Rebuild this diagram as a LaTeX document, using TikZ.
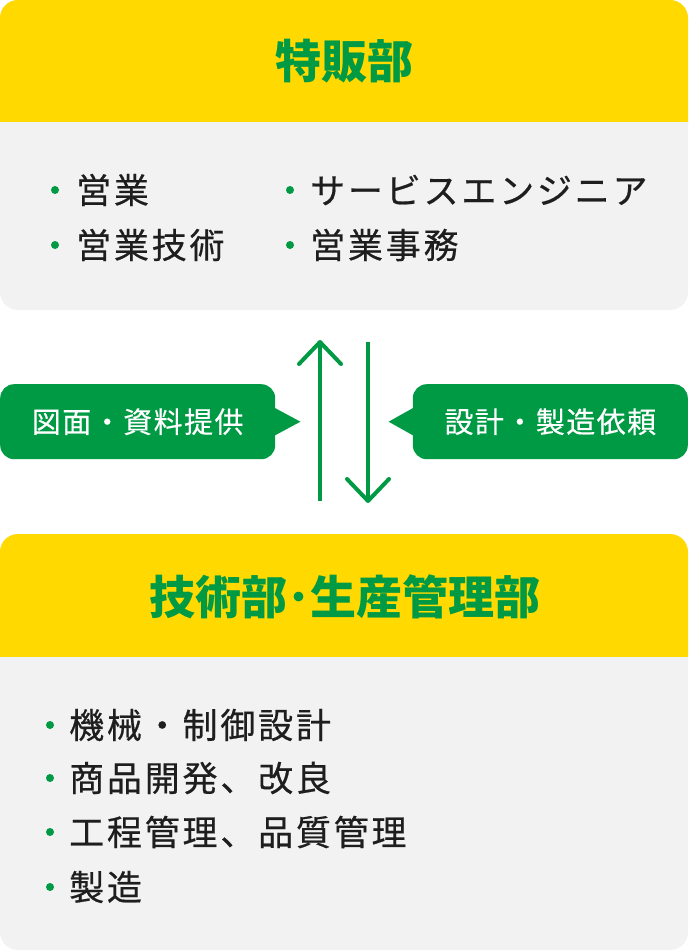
\documentclass[tikz,border=0pt]{standalone}
\usepackage{fontspec}
\setmainfont{Noto Sans CJK JP}
\usetikzlibrary{arrows.meta,calc}
\definecolor{hdr}{HTML}{FFD900}
\definecolor{grn}{HTML}{009A44}
\definecolor{pane}{HTML}{F2F2F2}
\definecolor{ink}{HTML}{1E1E1E}
\begin{document}
\begin{tikzpicture}[x=1pt,y=-1pt,
  title/.style={font=\fontsize{46pt}{50pt}\selectfont\bfseries, text=grn, inner sep=0pt},
  item/.style={font=\fontsize{35pt}{40pt}\selectfont\addfontfeatures{LetterSpace=8,FakeBold=0.5}, text=ink, anchor=west, inner sep=0pt},
  bul/.style={circle, fill=grn, minimum size=8pt, inner sep=0pt},
  callout/.style={fill=grn, rounded corners=14pt, minimum width=275pt, minimum height=75pt, inner sep=0pt, text=white, font=\fontsize{29pt}{32pt}\selectfont\addfontfeatures{LetterSpace=5,FakeBold=0.3}},
  flow/.style={draw=grn, line width=4pt, -{Straight Barb[length=22pt, width=42pt, line join=round, line cap=round]}}]
\useasboundingbox (0,0) rectangle (688,952);
% top panel
\fill[pane, rounded corners=18pt] (0,0) rectangle (688,310);
\begin{scope}
  \clip (0,0) rectangle (688,122);
  \fill[hdr, rounded corners=18pt] (0,0) rectangle (688,170);
\end{scope}
\node[title] (t1) at (344,61) {特販部};
\node[bul] (b11) at (55,190) {};
\node[item] (i11) at (76,190) {営業};
\node[bul] (b12) at (55,245) {};
\node[item] (i12) at (76,245) {営業技術};
\node[bul] (b13) at (290,190) {};
\node[item] (i13) at (310,190) {サービスエンジニア};
\node[bul] (b14) at (290,245) {};
\node[item] (i14) at (310,245) {営業事務};
% callouts
\node[callout, anchor=north west] (c1) at (0,384) {図面・資料提供};
\fill[grn] ($(c1.east)+(-1,-14)$) -- ($(c1.east)+(25,0)$) -- ($(c1.east)+(-1,14)$) -- cycle;
\node[callout, anchor=north east] (c2) at (688,384) {設計・製造依頼};
\fill[grn] ($(c2.west)+(1,-14)$) -- ($(c2.west)+(-24,0)$) -- ($(c2.west)+(1,14)$) -- cycle;
% arrows
\coordinate (ua) at (320,501);
\coordinate (ub) at (320,340);
\coordinate (da) at (368,342);
\coordinate (db) at (368,503);
\draw[flow] (ua) -- (ub);
\draw[flow] (da) -- (db);
% bottom panel
\fill[pane, rounded corners=18pt] (0,534) rectangle (688,950);
\begin{scope}
  \clip (0,534) rectangle (688,656);
  \fill[hdr, rounded corners=18pt] (0,534) rectangle (688,700);
\end{scope}
\node[title] (t2) at (345,597) {技術部･生産管理部};
\node[bul] (b21) at (50,725) {};
\node[item] (i21) at (69,725) {機械・制御設計};
\node[bul] (b22) at (50,778) {};
\node[item] (i22) at (69,778) {商品開発、改良};
\node[bul] (b23) at (50,832) {};
\node[item] (i23) at (69,832) {工程管理、品質管理};
\node[bul] (b24) at (50,887) {};
\node[item] (i24) at (69,887) {製造};
\end{tikzpicture}
\end{document}
